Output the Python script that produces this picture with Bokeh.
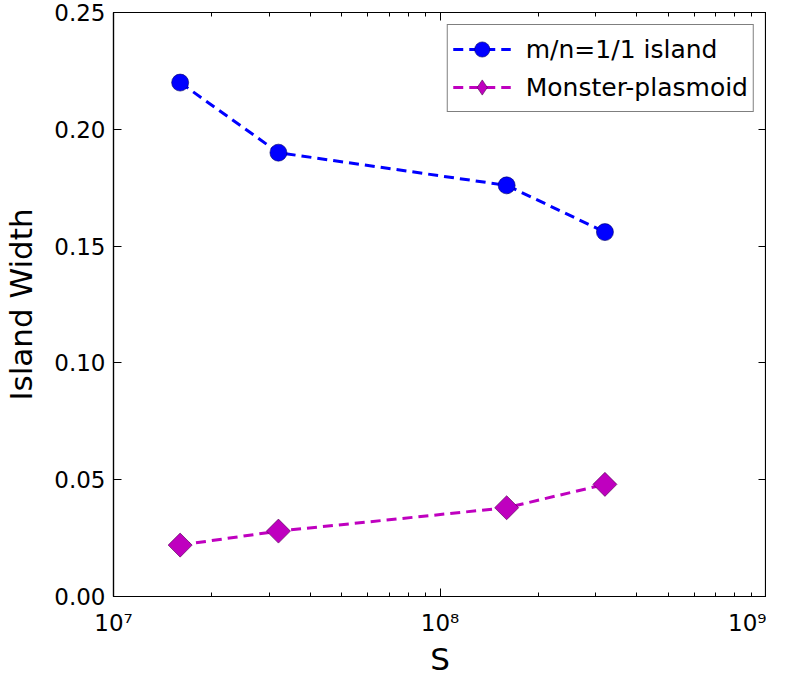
import numpy as np
from bokeh.plotting import figure
from bokeh.models import (Range1d, LogAxis, LinearAxis, FixedTicker,
                          CustomJSTickFormatter, NumeralTickFormatter, Legend, LegendItem)
from bokeh.embed import file_html
from bokeh.resources import INLINE

# Data
S_values = [1.6e7, 3.2e7, 1.6e8, 3.2e8]
island_width = [0.220, 0.190, 0.176, 0.156]
plasmoid_width = [0.022, 0.028, 0.038, 0.048]
x_major_ticks = [1e7, 1e8, 1e9]
y_ticks = [0.00, 0.05, 0.10, 0.15, 0.20, 0.25]
series_labels = ["m/n=1/1 island", "Monster-plasmoid"]

x_minor_ticks = [m * d for d in x_major_ticks[:-1] for m in range(2, 10)]

FONT = "DejaVu Sans"

p = figure(frame_width=653, frame_height=584, x_axis_type="log",
           x_range=Range1d(1e7, 1e9), y_range=Range1d(0, 0.25),
           output_backend="svg", toolbar_location=None,
           min_border_left=113, min_border_right=0, min_border_top=12, min_border_bottom=72)
p.background_fill_color = "white"
p.border_fill_color = "white"
p.grid.visible = False
p.outline_line_color = "black"
p.outline_line_width = 1.2

sup_code = """
const sup = {'0':'\u2070','1':'\u00b9','2':'\u00b2','3':'\u00b3','4':'\u2074','5':'\u2075','6':'\u2076','7':'\u2077','8':'\u2078','9':'\u2079','-':'\u207b'};
const e = Math.round(Math.log10(tick));
return '10' + String(e).split('').map(c => sup[c]).join('');
"""

xa = p.xaxis[0]
xa.ticker = FixedTicker(ticks=x_major_ticks, minor_ticks=x_minor_ticks)
xa.formatter = CustomJSTickFormatter(code=sup_code)
xa.axis_label = "S"
ya = p.yaxis[0]
ya.ticker = FixedTicker(ticks=y_ticks)
ya.formatter = NumeralTickFormatter(format="0.00")
ya.axis_label = "Island Width"

for ax in (xa, ya):
    ax.major_tick_in = 8
    ax.major_tick_out = 0
    ax.minor_tick_in = 4
    ax.minor_tick_out = 0
    ax.axis_line_color = "black"
    ax.axis_line_width = 1.2
    ax.major_tick_line_color = "black"
    ax.minor_tick_line_color = "black"
    ax.major_label_text_font = FONT
    ax.major_label_text_font_size = "23px"
    ax.major_label_text_color = "black"
    ax.axis_label_text_font = FONT
    ax.axis_label_text_font_size = "31px"
    ax.axis_label_text_font_style = "normal"
    ax.axis_label_text_color = "black"
ya.major_label_standoff = 8
xa.major_label_standoff = 13
ya.minor_tick_line_color = None
ya.axis_label_standoff = 12
xa.axis_label_standoff = 2

empty = CustomJSTickFormatter(code="return '';")
top = LogAxis(ticker=FixedTicker(ticks=x_major_ticks, minor_ticks=x_minor_ticks), formatter=empty)
right = LinearAxis(ticker=FixedTicker(ticks=y_ticks), formatter=empty)
for ax in (top, right):
    ax.major_tick_in = 8
    ax.major_tick_out = 0
    ax.minor_tick_in = 4
    ax.minor_tick_out = 0
    ax.major_label_standoff = 0
    ax.axis_label_standoff = 0
    ax.axis_line_color = "black"
    ax.axis_line_width = 1.2
    ax.major_label_text_font_size = "0px"
    ax.axis_label_text_font_size = "0px"
right.minor_tick_line_color = None
p.add_layout(top, "above")
p.add_layout(right, "right")

blue = "#0000ff"
mag = "#bf00bf"

l1 = p.line(S_values, island_width, line_color=blue, line_width=3, line_dash="10 6")
s1 = p.scatter(S_values, island_width, marker="circle", size=17,
               fill_color=blue, line_color="#000066", line_width=0.6)
l2 = p.line(S_values, plasmoid_width, line_color=mag, line_width=3, line_dash="10 6")
s2 = p.scatter(S_values, plasmoid_width, marker="square", size=17, angle=np.pi / 4,
               fill_color=mag, line_color="#4d004d", line_width=0.6)
# legend proxy: diamond glyph with no drawable point (NaN) so only the legend shows it
s2_leg = p.scatter(x=[np.nan], y=[np.nan], marker="diamond", size=17,
                   fill_color=mag, line_color="#4d004d", line_width=0.6)

legend = Legend(items=[LegendItem(label=series_labels[0], renderers=[l1, s1]),
                       LegendItem(label=series_labels[1], renderers=[l2, s2_leg])],
                location="top_right")
legend.label_text_font = FONT
legend.label_text_font_size = "25px"
legend.label_text_color = "black"
legend.glyph_width = 58
legend.glyph_height = 38
legend.label_height = 32
legend.label_standoff = 15
legend.spacing = -4
legend.padding = 5
legend.margin = 12
legend.border_line_color = "black"
legend.border_line_width = 1.2
legend.background_fill_alpha = 1.0
p.add_layout(legend)

open("out.html", "w").write(file_html(p, INLINE))
